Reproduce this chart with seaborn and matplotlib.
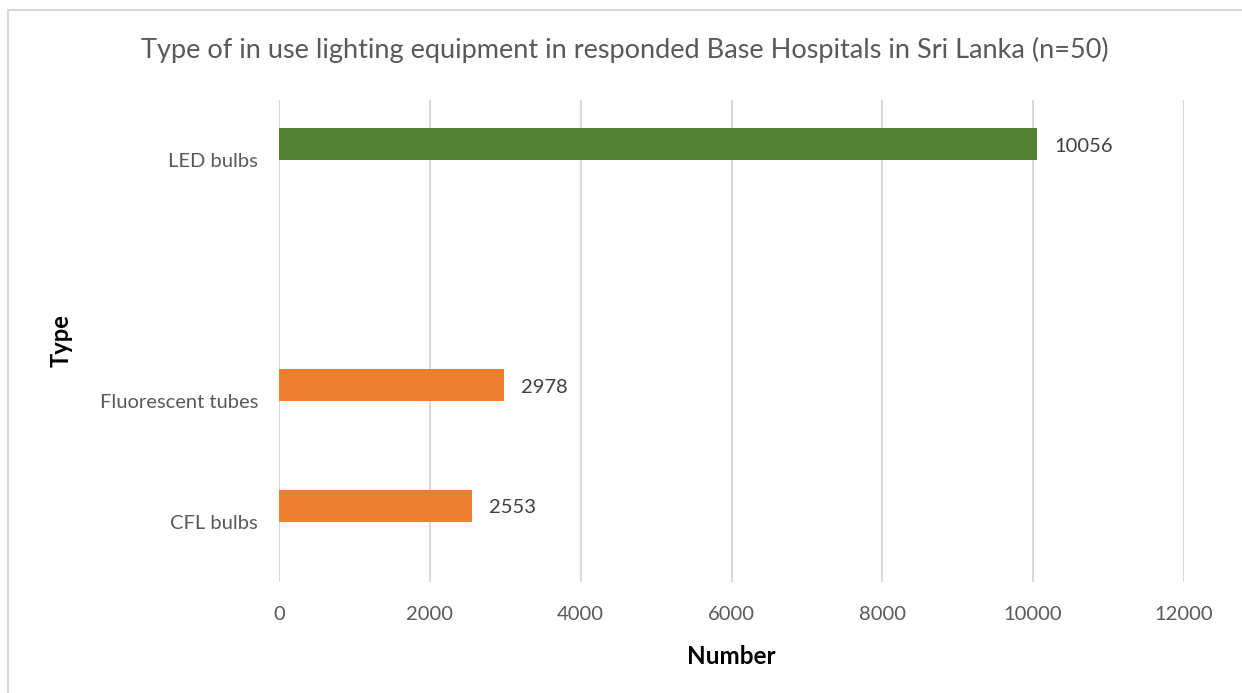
import numpy as np
import pandas as pd
import matplotlib
matplotlib.use("Agg")
import matplotlib.pyplot as plt
import seaborn as sns
from matplotlib.lines import Line2D

# chart data
categories = ["LED bulbs", "Fluorescent tubes", "CFL bulbs"]
counts = [10056, 2978, 2553]
bar_colors = ["#548235", "#ED7D31", "#ED7D31"]
# Excel category slots (one empty slot between LED and fluorescent)
slot_order = ["LED bulbs", " ", "Fluorescent tubes", "CFL bulbs"]
x_ticks = [0, 2000, 4000, 6000, 8000, 10000, 12000]

TEXT = "#595959"
GRID = "#D9D9D9"

sns.set_theme(style="white")
plt.rcParams["font.family"] = ["Lato", "DejaVu Sans"]

df = pd.DataFrame({"Type": categories, "Number": counts, "series": "Count"})

fig = plt.figure(figsize=(12.42, 6.93), dpi=100)
ax = fig.add_axes([279 / 1242, 1 - 582 / 693, (1184 - 279) / 1242, (582 - 100) / 693])

# second (empty) hue level keeps Excel's series offset
sns.barplot(data=df, y="Type", x="Number", hue="series",
            hue_order=["Count", "_empty"], order=slot_order,
            orient="h", width=0.53, dodge=True, legend=False,
            linewidth=0, ax=ax)

bars = [p for p in ax.patches if p.get_width() > 0]
bars.sort(key=lambda p: p.get_y())
for p, c, v in zip(bars, bar_colors, counts):
    p.set_facecolor(c)
    p.set_edgecolor("none")
    ax.text(p.get_width() + 230, p.get_y() + p.get_height() / 2 + 0.015, f"{v}",
            va="center", ha="left", fontsize=14.5, color="#404040")

ax.set_xlim(0, 12000)
ax.set_xticks(x_ticks)
ax.set_xticklabels([str(t) for t in x_ticks])
ax.grid(axis="x", color=GRID, linewidth=1.5)
ax.set_axisbelow(True)
for s in ax.spines.values():
    s.set_visible(False)
ax.tick_params(axis="x", length=0, pad=17, labelsize=14.5, labelcolor=TEXT)
ax.tick_params(axis="y", length=0, pad=15, labelsize=14.5, labelcolor=TEXT)

ax.set_xlabel("Number", fontsize=17.5, fontweight="bold", color="black", labelpad=16)
ax.set_ylabel("Type", fontsize=17, fontweight="bold", color="black", labelpad=0)
ax.yaxis.set_label_coords(-0.228, 0.5)

fig.text(625 / 1242, 1 - 50 / 693, "Type of in use lighting equipment in responded Base Hospitals in Sri Lanka (n=50)",
         ha="center", va="center", fontsize=19.5, color=TEXT)

# chart area border
fig.add_artist(Line2D([8 / 1242, 1.0], [1 - 10 / 693, 1 - 10 / 693], transform=fig.transFigure,
                      color=GRID, linewidth=1.5))
fig.add_artist(Line2D([8 / 1242, 8 / 1242], [0, 1 - 10 / 693], transform=fig.transFigure,
                      color=GRID, linewidth=1.5))

fig.savefig("out.png", dpi=100)
